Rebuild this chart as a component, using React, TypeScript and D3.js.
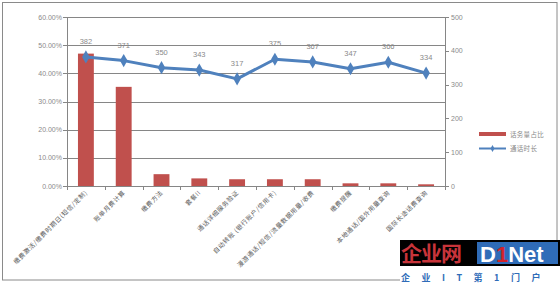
import React from "react";
import * as d3 from "d3";

const categories = [
  "缴费激活/缴费时期日(短信/定制)",
  "账单月费计算",
  "缴费方法",
  "套餐II",
  "通话详细服务验证",
  "自动转账 (银行账户/信用卡)",
  "漫游通话/短信/流量数据用量/收费",
  "缴费提醒",
  "本地通话/国外用量查询",
  "国际长途话费查询",
];
const shareValues = [47.0, 35.2, 4.2, 2.7, 2.4, 2.4, 2.4, 0.95, 0.95, 0.6];
const durationValues = [382, 371, 350, 343, 317, 375, 367, 347, 366, 334];
const leftTicks = [0, 10, 20, 30, 40, 50, 60];
const rightTicks = [0, 100, 200, 300, 400, 500];
const legendLabels = ["话务量占比", "通话时长"];

const W = 560;
const H = 284;
const left = 67;
const right = 445;
const top = 17;
const bottom = 186;
const RED = "#C0504D";
const BLUE = "#4F81BD";
const GRID = "#868686";
const TXT = "#8a8a8a";
const FONT = "'Noto Sans CJK SC', 'Noto Sans', sans-serif";

export default function App() {
  const x = d3.scaleBand<string>().domain(categories).range([left, right]).paddingInner(0.58).paddingOuter(0.29);
  const band = d3.scaleBand<string>().domain(categories).range([left, right]);
  const yL = d3.scaleLinear().domain([0, 60]).range([bottom, top]);
  const yR = d3.scaleLinear().domain([0, 500]).range([bottom, top]);
  const line = d3
    .line<number>()
    .x((_, i) => (band(categories[i]) as number) + band.bandwidth() / 2)
    .y((d) => yR(d));
  const diamond = d3.symbol().type(d3.symbolDiamond).size(50)();
  const smallDiamond = d3.symbol().type(d3.symbolDiamond).size(14)();

  return (
    <svg width={W} height={H} style={{ position: "absolute", left: 0, top: 0, background: "#fff" }} fontFamily={FONT}>
      <rect x={2.5} y={2.5} width={554.5} height={277.5} fill="#fff" stroke="#8a8a8a" strokeWidth={1} />
      {leftTicks.map((t) => (
        <line key={"g" + t} x1={left - 4} x2={right} y1={Math.round(yL(t)) + 0.5} y2={Math.round(yL(t)) + 0.5} stroke={GRID} strokeWidth={1} />
      ))}
      {leftTicks.map((t) => (
        <text key={"lt" + t} x={left - 5} y={yL(t) + 2.5} textAnchor="end" fontSize={7} fill={TXT} fontFamily="'Liberation Sans', Arial, sans-serif">
          {t.toFixed(2)}%
        </text>
      ))}
      {rightTicks.map((t) => (
        <g key={"rt" + t}>
          <line x1={right} x2={right + 4} y1={Math.round(yR(t)) + 0.5} y2={Math.round(yR(t)) + 0.5} stroke={GRID} />
          <text x={right + 6} y={yR(t) + 2.5} fontSize={7} fill={TXT} fontFamily="'Liberation Sans', Arial, sans-serif">
            {t}
          </text>
        </g>
      ))}
      <line x1={left + 0.5} x2={left + 0.5} y1={top} y2={bottom} stroke={GRID} />
      <line x1={right + 0.5} x2={right + 0.5} y1={top} y2={bottom} stroke={GRID} />
      {categories.map((c, i) => (
        <line key={"xt" + i} x1={Math.round(band(c) as number) + 0.5} x2={Math.round(band(c) as number) + 0.5} y1={bottom} y2={bottom + 4} stroke={GRID} />
      ))}
      <line x1={right + 0.5} x2={right + 0.5} y1={bottom} y2={bottom + 4} stroke={GRID} />
      {shareValues.map((v, i) => (
        <rect key={"b" + i} x={x(categories[i])} y={yL(v)} width={x.bandwidth()} height={bottom - yL(v)} fill={RED} />
      ))}
      <path d={line(durationValues) || ""} fill="none" stroke={BLUE} strokeWidth={3} strokeLinejoin="round" />
      {durationValues.map((v, i) => {
        const cx = (band(categories[i]) as number) + band.bandwidth() / 2;
        return (
          <g key={"p" + i}>
            <path d={diamond || ""} transform={`translate(${cx},${yR(v)})`} fill={BLUE} />
            <text x={cx} y={yR(v) - 13} textAnchor="middle" fontSize={7.5} fill={TXT} fontFamily="'Liberation Sans', Arial, sans-serif">
              {v}
            </text>
          </g>
        );
      })}
      {categories.map((c, i) => {
        const cx = (band(c) as number) + band.bandwidth() / 2 + 2;
        return (
          <text key={"xl" + i} transform={`translate(${cx},${bottom + 7}) rotate(-45)`} textAnchor="end" fontSize={6.3} fill="#595959" letterSpacing={0.6}>
            {c}
          </text>
        );
      })}
      <rect x={479} y={132} width={27} height={4} fill={RED} />
      <text x={510} y={136.5} fontSize={6.5} fill={TXT} letterSpacing={0.3}>{legendLabels[0]}</text>
      <line x1={479} x2={506} y1={148.5} y2={148.5} stroke={BLUE} strokeWidth={2} />
      <path d={smallDiamond || ""} transform="translate(492.5,148.5)" fill={BLUE} />
      <text x={510} y={151} fontSize={6.5} fill={TXT} letterSpacing={0.3}>{legendLabels[1]}</text>
      <rect x={400} y={240} width={160} height={26} fill="#000" />
      <rect x={400} y={266} width={160} height={18} fill="#fff" />
      <text x={401} y={261} fontSize={21} fontWeight="bold" fill="#c8343a" letterSpacing={-1}>企业网</text>
      <rect x={477} y={242} width={81} height={22} fill="#2f6cb8" />
      <text x={480} y={262} fontSize={22} fontWeight="bold" fill="#fff" fontFamily="'Liberation Sans', Arial, sans-serif">
        D<tspan fill="#d2232a">1</tspan>Net
      </text>
      <text x={401} y={281} fontSize={9} fontWeight="bold" fill="#2f6cb8" letterSpacing={11.5}>企业IT第1门户</text>
    </svg>
  );
}
